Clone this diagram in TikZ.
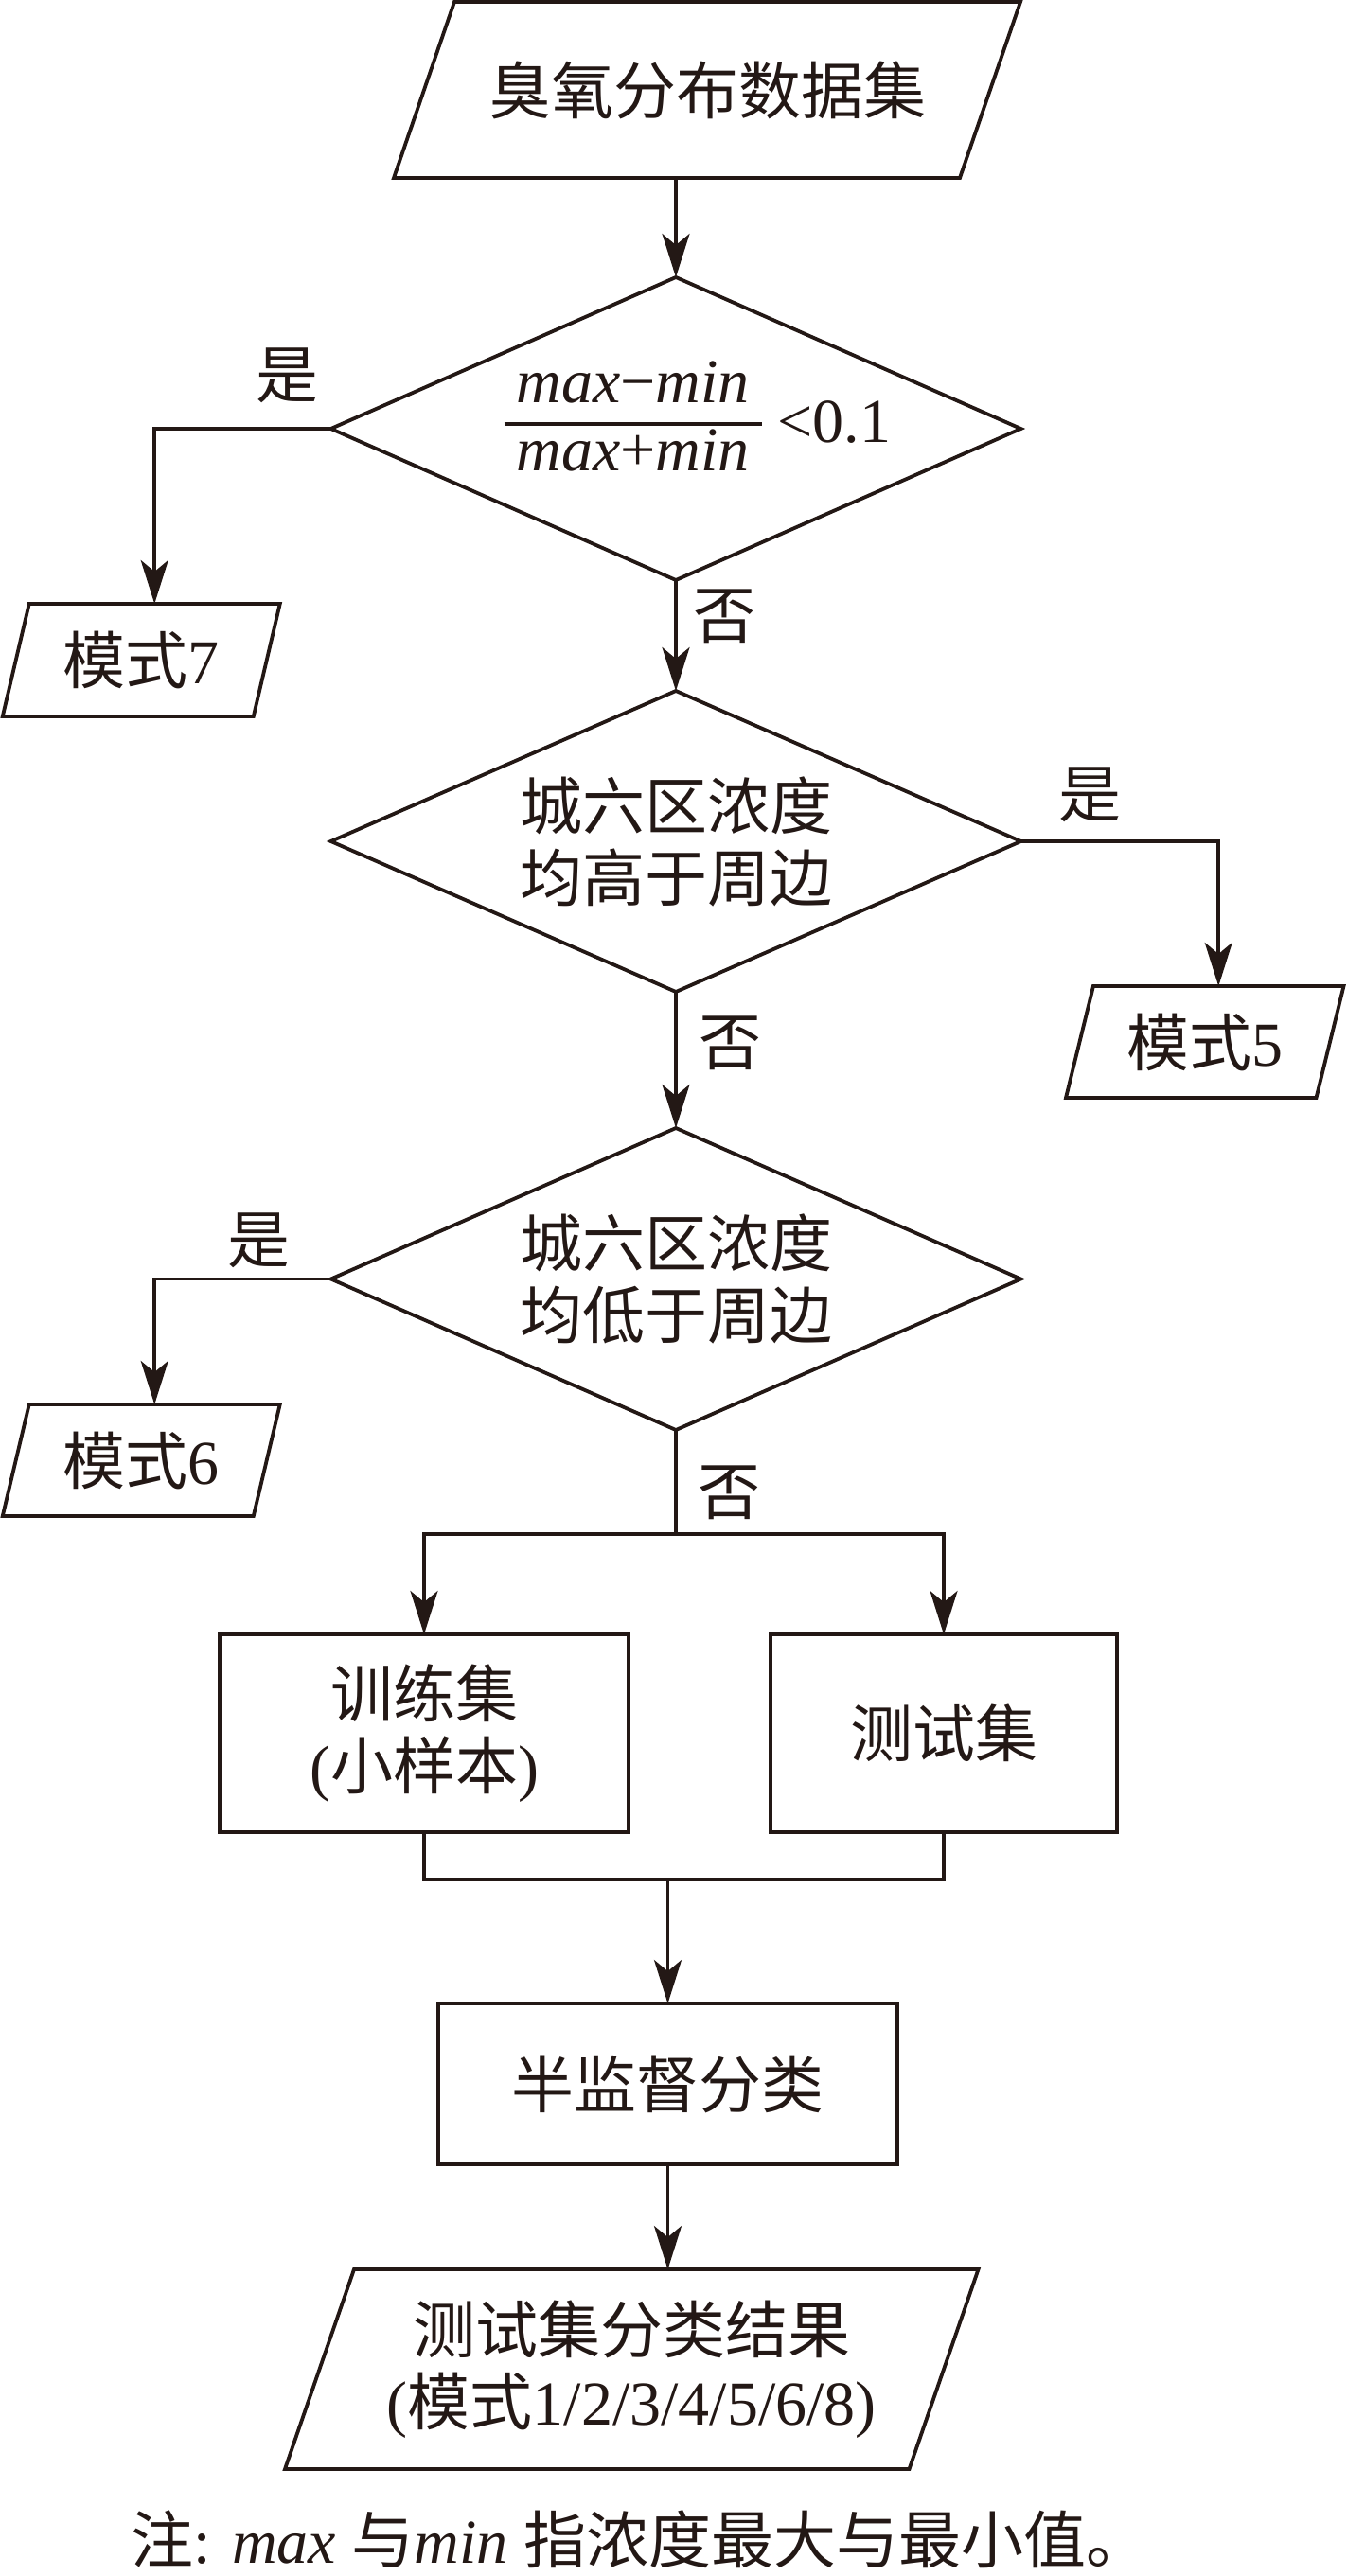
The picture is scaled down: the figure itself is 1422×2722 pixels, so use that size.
\documentclass[tikz,border=0pt]{standalone}
\usepackage{fontspec}
\setmainfont{Liberation Serif}
\newfontfamily\cjk{Noto Sans CJK SC}
\usetikzlibrary{arrows.meta,shapes.geometric}
\definecolor{ink}{RGB}{35,24,21}
\newcommand\zh[1]{{\cjk #1}}
\newcommand\iopara[2]{\draw[line join=miter] ([xshift=#2]#1.north west) -- ([xshift=#2]#1.north east) -- ([xshift=-#2]#1.south east) -- ([xshift=-#2]#1.south west) -- cycle;}
\begin{document}
\begin{tikzpicture}[x=1pt,y=-1pt,line width=3.8pt,color=ink,
  font=\fontsize{66}{76}\selectfont,
  every node/.style={inner sep=0pt,outer sep=0pt},
  box/.style={draw,rectangle,align=center},
  iobody/.style={rectangle,align=center},
  dec/.style={draw,diamond,aspect=2.28,align=center,minimum width=729pt,minimum height=#1},
  arr/.style={-{Stealth[length=46pt,width=29pt,inset=12pt]}}]
\useasboundingbox (0,0) rectangle (1422,2722);

% nodes
\node[iobody,minimum width=598pt,minimum height=186pt] (p0) at (747,95) {\zh{臭氧分布数据集}};
\node[dec=320pt] (d1) at (714,453) {};
\node (f1) at (737,448) {\raisebox{-30pt}{\renewcommand\arraystretch{0.9}\setlength\arrayrulewidth{3.5pt}\begin{tabular}[b]{@{\hspace{13pt}}c@{\hspace{13pt}}}\textit{max}−\textit{min}\\\hline\textit{max}+\textit{min}\end{tabular}}\hspace{17pt}<0.1};
\node[iobody,minimum width=265pt,minimum height=119pt] (p7) at (149.25,697.5) {\zh{模式}7};
\node[dec=318pt] (d2) at (714,889) {\zh{城六区浓度}\\\zh{均高于周边}};
\node[iobody,minimum width=264.5pt,minimum height=118pt] (p5) at (1272.75,1101) {\zh{模式}5};
\node[dec=319pt] (d3) at (714,1351.5) {\zh{城六区浓度}\\\zh{均低于周边}};
\node[iobody,minimum width=265pt,minimum height=118pt] (p6) at (149.25,1543) {\zh{模式}6};
\node[box,minimum width=432pt,minimum height=209pt] (t1) at (448,1831.5) {\zh{训练集}\\(\zh{小样本})};
\node[box,minimum width=366pt,minimum height=209pt] (t2) at (997,1831.5) {\zh{测试集}};
\node[box,minimum width=485pt,minimum height=170pt] (semi) at (705.5,2202) {\zh{半监督分类}};
\node[iobody,minimum width=659.5pt,minimum height=211pt] (res) at (667.25,2503.5) {\zh{测试集分类结果}\\(\zh{模式}1/2/3/4/5/6/8)};
\node (note) at (676,2683) {\fontsize{66}{76}\selectfont\zh{注}: \textit{max} \zh{与}\textit{min} \zh{指浓度最大与最小值。}};

% parallelogram outlines
\iopara{p0}{32pt}
\iopara{p7}{14pt}
\iopara{p5}{14.5pt}
\iopara{p6}{14pt}
\iopara{res}{36.5pt}

% labels
\node (y1) at (303,397) {\zh{是}};
\node (n1) at (765,651) {\zh{否}};
\node (y2) at (1151,840) {\zh{是}};
\node (n2) at (771,1102) {\zh{否}};
\node (y3) at (273,1311) {\zh{是}};
\node (n3) at (770,1577) {\zh{否}};

% connectors
\draw[arr] (p0.south -| d1.north) -- (d1.north);
\draw[arr] (d1.west) -| ([xshift=14pt]p7.north);
\draw[arr] (d1.south) -- (d2.north);
\draw[arr] (d2.east) -| ([xshift=14.5pt]p5.north);
\draw[arr] (d2.south) -- (d3.north);
\draw[arr] (d3.west) -| ([xshift=14pt]p6.north);
\coordinate (split) at (714,1621);
\draw (d3.south) -- (split);
\draw[arr] (split) -| (t1.north);
\draw[arr] (split) -| (t2.north);
\coordinate (merge) at (705.5,1986);
\draw (t1.south) |- (merge) -| (t2.south);
\draw[arr] (merge) -- (semi.north);
\draw[arr] (semi.south) -- (semi.south |- res.north);
\end{tikzpicture}
\end{document}
